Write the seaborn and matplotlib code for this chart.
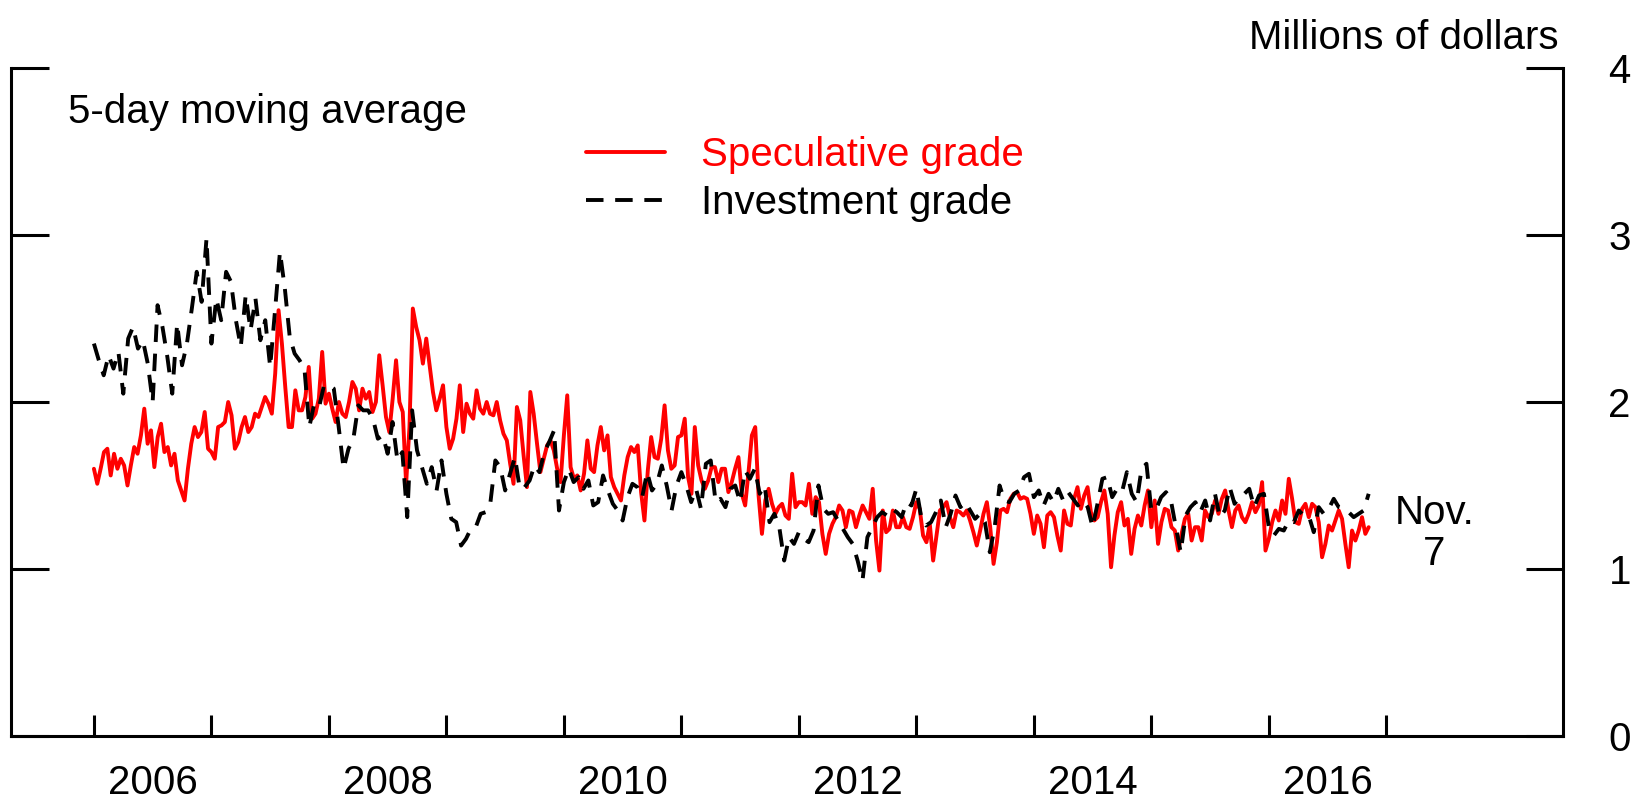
import numpy as np
import pandas as pd
import seaborn as sns
import matplotlib
matplotlib.use("Agg")
import matplotlib.pyplot as plt

sns.set_style("white")
plt.rcParams['font.family'] = ['Liberation Sans', 'DejaVu Sans']
plt.rcParams['text.color'] = 'black'
plt.rcParams['xtick.color'] = 'black'
plt.rcParams['ytick.color'] = 'black'

# 5-day moving average, millions of dollars
# speculative grade: 35 readings per calendar year, 31 for 2016 (to Nov. 7)
spec_2006 = [1.60, 1.51, 1.60, 1.70, 1.72, 1.56, 1.69, 1.60, 1.66, 1.62, 1.50, 1.62, 1.73, 1.69, 1.80, 1.96, 1.75, 1.83,
             1.61, 1.79, 1.87, 1.70, 1.73, 1.62, 1.69, 1.53, 1.47, 1.41, 1.60, 1.75, 1.85, 1.79, 1.82, 1.94, 1.72]
spec_2007 = [1.70, 1.66, 1.85, 1.86, 1.88, 2.00, 1.92, 1.72, 1.76, 1.85, 1.91, 1.82, 1.85, 1.93, 1.91, 1.97, 2.03, 1.99,
             1.93, 2.17, 2.55, 2.35, 2.09, 1.85, 1.85, 2.07, 1.95, 1.95, 2.03, 2.21, 1.90, 1.93, 2.02, 2.30, 1.99]
spec_2008 = [2.05, 1.96, 1.88, 2.00, 1.93, 1.91, 2.00, 2.12, 2.08, 1.95, 2.08, 2.02, 2.06, 1.94, 2.00, 2.28, 2.10, 1.91,
             1.82, 2.02, 2.25, 2.00, 1.94, 1.51, 1.85, 2.56, 2.45, 2.37, 2.23, 2.38, 2.22, 2.06, 1.95, 2.02, 2.10]
spec_2009 = [1.85, 1.72, 1.78, 1.90, 2.10, 1.82, 1.99, 1.93, 1.90, 2.07, 1.96, 1.93, 2.00, 1.93, 1.92, 2.00, 1.89, 1.81,
             1.77, 1.63, 1.51, 1.97, 1.89, 1.68, 1.49, 2.06, 1.93, 1.75, 1.58, 1.66, 1.74, 1.77, 1.71, 1.60, 1.52]
spec_2010 = [1.80, 2.04, 1.61, 1.54, 1.56, 1.47, 1.57, 1.77, 1.60, 1.58, 1.74, 1.85, 1.71, 1.80, 1.55, 1.49, 1.45, 1.41,
             1.56, 1.67, 1.73, 1.70, 1.74, 1.46, 1.29, 1.59, 1.79, 1.67, 1.66, 1.78, 1.98, 1.71, 1.60, 1.62, 1.79]
spec_2011 = [1.80, 1.90, 1.55, 1.45, 1.85, 1.62, 1.53, 1.48, 1.53, 1.61, 1.61, 1.52, 1.60, 1.60, 1.46, 1.52, 1.60, 1.67,
             1.45, 1.38, 1.58, 1.80, 1.85, 1.44, 1.21, 1.41, 1.48, 1.39, 1.33, 1.37, 1.39, 1.32, 1.30, 1.57, 1.37]
spec_2012 = [1.40, 1.40, 1.38, 1.51, 1.33, 1.43, 1.40, 1.21, 1.09, 1.21, 1.27, 1.31, 1.38, 1.35, 1.25, 1.35, 1.34, 1.25,
             1.32, 1.38, 1.34, 1.30, 1.48, 1.17, 0.99, 1.35, 1.22, 1.24, 1.35, 1.25, 1.25, 1.31, 1.25, 1.24, 1.31]
spec_2013 = [1.40, 1.36, 1.20, 1.16, 1.27, 1.05, 1.20, 1.35, 1.37, 1.40, 1.31, 1.25, 1.35, 1.34, 1.32, 1.35, 1.29, 1.22,
             1.14, 1.23, 1.33, 1.40, 1.25, 1.03, 1.16, 1.35, 1.36, 1.34, 1.42, 1.45, 1.46, 1.42, 1.43, 1.42, 1.33]
spec_2014 = [1.21, 1.32, 1.27, 1.13, 1.32, 1.34, 1.31, 1.20, 1.11, 1.35, 1.27, 1.26, 1.42, 1.49, 1.36, 1.44, 1.49, 1.34,
             1.29, 1.31, 1.40, 1.47, 1.33, 1.01, 1.20, 1.34, 1.40, 1.26, 1.30, 1.09, 1.24, 1.32, 1.26, 1.38, 1.47]
spec_2015 = [1.25, 1.41, 1.15, 1.28, 1.36, 1.35, 1.25, 1.23, 1.11, 1.21, 1.30, 1.33, 1.17, 1.25, 1.25, 1.17, 1.35, 1.31,
             1.33, 1.41, 1.33, 1.42, 1.47, 1.35, 1.25, 1.35, 1.38, 1.31, 1.28, 1.33, 1.40, 1.34, 1.38, 1.52, 1.11]
spec_2016 = [1.18, 1.28, 1.35, 1.29, 1.41, 1.33, 1.54, 1.42, 1.28, 1.27, 1.36, 1.39, 1.31, 1.39, 1.37, 1.28, 1.07, 1.15,
             1.26, 1.23, 1.29, 1.35, 1.30, 1.15, 1.01, 1.23, 1.17, 1.23, 1.31, 1.21, 1.25]

# investment grade: 24 readings per calendar year, 21 for 2016
inv_2006 = [2.35, 2.25, 2.16, 2.28, 2.20, 2.30, 2.05, 2.38, 2.45, 2.32, 2.37, 2.23, 2.00, 2.58, 2.45, 2.27, 2.05, 2.47,
            2.22, 2.35, 2.56, 2.78, 2.60, 2.98]
inv_2007 = [2.35, 2.62, 2.49, 2.78, 2.72, 2.49, 2.33, 2.64, 2.43, 2.62, 2.37, 2.49, 2.21, 2.55, 2.90, 2.68, 2.39, 2.29,
            2.25, 2.20, 1.85, 1.99, 1.97, 2.10]
inv_2008 = [2.10, 2.08, 1.85, 1.60, 1.72, 1.78, 1.98, 1.95, 1.95, 1.90, 1.78, 1.80, 1.69, 1.88, 1.65, 1.70, 1.31, 1.95,
            1.71, 1.61, 1.51, 1.61, 1.47, 1.65]
inv_2009 = [1.45, 1.30, 1.28, 1.14, 1.18, 1.24, 1.25, 1.33, 1.34, 1.40, 1.65, 1.61, 1.47, 1.57, 1.67, 1.48, 1.49, 1.53,
            1.62, 1.58, 1.70, 1.76, 1.83, 1.35]
inv_2010 = [1.52, 1.60, 1.52, 1.55, 1.48, 1.53, 1.38, 1.40, 1.56, 1.47, 1.39, 1.35, 1.29, 1.43, 1.51, 1.49, 1.43, 1.58,
            1.47, 1.51, 1.62, 1.50, 1.35, 1.50]
inv_2011 = [1.58, 1.50, 1.40, 1.48, 1.36, 1.63, 1.65, 1.40, 1.42, 1.37, 1.48, 1.50, 1.40, 1.59, 1.54, 1.60, 1.45, 1.50,
            1.28, 1.33, 1.25, 1.05, 1.19, 1.15]
inv_2012 = [1.22, 1.18, 1.16, 1.23, 1.50, 1.36, 1.33, 1.34, 1.29, 1.24, 1.19, 1.15, 1.05, 0.93, 1.19, 1.25, 1.31, 1.34,
            1.32, 1.36, 1.34, 1.31, 1.40, 1.38]
inv_2013 = [1.48, 1.31, 1.26, 1.28, 1.34, 1.41, 1.25, 1.33, 1.44, 1.37, 1.40, 1.35, 1.30, 1.33, 1.28, 1.10, 1.25, 1.50,
            1.41, 1.40, 1.45, 1.47, 1.55, 1.57]
inv_2014 = [1.43, 1.47, 1.38, 1.45, 1.40, 1.48, 1.41, 1.46, 1.42, 1.38, 1.41, 1.37, 1.25, 1.39, 1.54, 1.55, 1.43, 1.48,
            1.46, 1.58, 1.45, 1.40, 1.60, 1.63]
inv_2015 = [1.35, 1.36, 1.43, 1.46, 1.41, 1.25, 1.10, 1.32, 1.37, 1.40, 1.34, 1.41, 1.29, 1.45, 1.31, 1.35, 1.49, 1.39,
            1.43, 1.45, 1.48, 1.37, 1.44, 1.45]
inv_2016 = [1.25, 1.20, 1.24, 1.23, 1.29, 1.28, 1.35, 1.32, 1.32, 1.22, 1.37, 1.33, 1.36, 1.42, 1.37, 1.36, 1.34, 1.31,
            1.33, 1.35, 1.45]

years = list(range(2006, 2017))
last_obs = 2016 + 311 / 366  # Nov. 7, 2016
spec_by_year = [spec_2006, spec_2007, spec_2008, spec_2009, spec_2010, spec_2011,
                spec_2012, spec_2013, spec_2014, spec_2015, spec_2016]
inv_by_year = [inv_2006, inv_2007, inv_2008, inv_2009, inv_2010, inv_2011,
               inv_2012, inv_2013, inv_2014, inv_2015, inv_2016]
year_labels = ["2006", "2008", "2010", "2012", "2014", "2016"]


def spread(vals, year):
    # readings are evenly spaced through each year
    if year == 2016:
        return np.linspace(2016, last_obs, len(vals))
    return year + np.arange(len(vals)) / len(vals)


def build(by_year, name):
    x = np.concatenate([spread(v, y) for v, y in zip(by_year, years)])
    v = np.concatenate(by_year)
    return pd.DataFrame({"date": x, "value": v, "series": name})


spec = build(spec_by_year, "Speculative grade")
inv = build(inv_by_year, "Investment grade")

fig = plt.figure(figsize=(16.41, 8.02), dpi=100)
ax = fig.add_axes([0.0064, 0.0825, 0.9458, 0.8325])

sns.lineplot(data=spec, x="date", y="value", color="#ff0000", linewidth=2.8,
             estimator=None, ax=ax)
sns.lineplot(data=inv, x="date", y="value", color="black", linewidth=2.8,
             linestyle=(0, (4.5, 3)), estimator=None, ax=ax)

ax.set_xlim(2005.29, 2018.5)
ax.set_ylim(0, 4)
ax.set_xlabel("")
ax.set_ylabel("")

# year boundaries as inward ticks, labels centred on the year
ax.set_xticks(np.arange(2006, 2018))
ax.set_xticklabels([])
ax.set_xticks([int(s) + 0.5 for s in year_labels], labels=year_labels, minor=True)
ax.tick_params(axis="x", which="major", direction="in", length=15, width=2.2,
               bottom=True, top=False)
ax.tick_params(axis="x", which="minor", length=0, pad=20, labelsize=29)

ax.set_yticks([0, 1, 2, 3, 4])
ax.set_yticklabels(["0", "1", "2", "3", "4"])
ax.tick_params(axis="y", direction="in", length=27, width=2.2, left=True, right=True,
               labelleft=False, labelright=True, pad=33, labelsize=29)

ax.spines["top"].set_visible(False)
for side in ["left", "right", "bottom"]:
    ax.spines[side].set_linewidth(2.2)
    ax.spines[side].set_color("black")

lines = ax.get_lines()
leg = ax.legend([lines[0], lines[1]], ["Speculative grade", "Investment grade"],
                loc="center left", bbox_to_anchor=(0.371, 0.834), frameon=False,
                fontsize=29, handlelength=1.95, handletextpad=0.9,
                borderpad=0, borderaxespad=0, labelspacing=0.25)
leg.get_texts()[0].set_color("#ff0000")

ax.text(0.037, 0.935, "5-day moving average", transform=ax.transAxes,
        fontsize=29, ha="left", va="center")
ax.text(2017.41, 1.215, "Nov.\n7", fontsize=29, ha="center", va="center",
        linespacing=1.1)
fig.text(0.950, 0.953, "Millions of dollars", fontsize=29, ha="right", va="center")

fig.savefig("out.png", dpi=100)
